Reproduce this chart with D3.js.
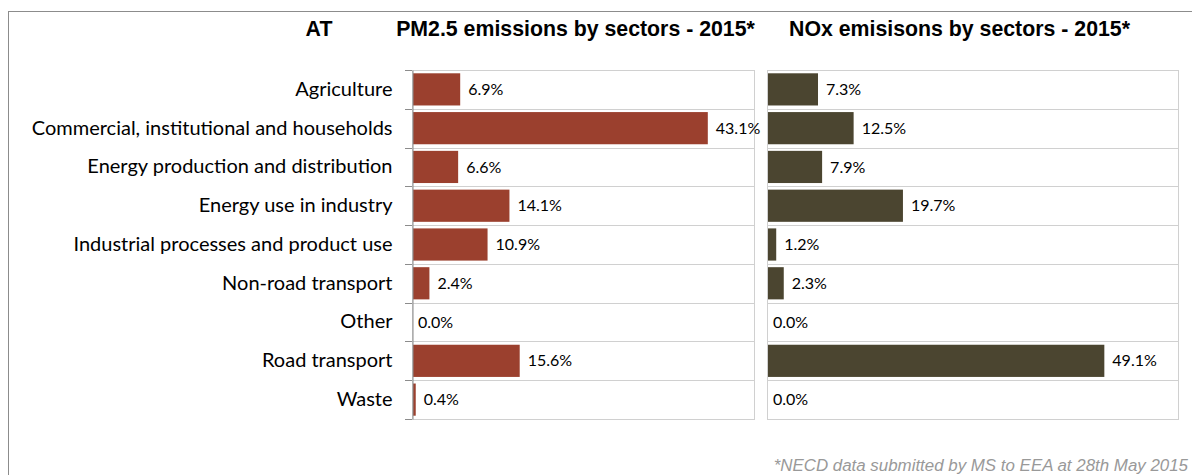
<!DOCTYPE html>
<html><head><meta charset="utf-8">
<script src="https://cdn.jsdelivr.net/npm/d3@7"></script>
<style>body{margin:0;background:#fff;}svg{display:block;}
.tt{font-family:"Liberation Sans", Arial, sans-serif;font-weight:bold;}
.fn{font-family:"Liberation Sans", Arial, sans-serif;font-style:italic;}
</style>
</head><body>
<svg id="c" width="1192" height="475"></svg>
<script>
const categories = ["Agriculture","Commercial, institutional and households","Energy production and distribution","Energy use in industry","Industrial processes and product use","Non-road transport","Other","Road transport","Waste"];
const pm25 = [6.9,43.1,6.6,14.1,10.9,2.4,0.0,15.6,0.4];
const nox = [7.3,12.5,7.9,19.7,1.2,2.3,0.0,49.1,0.0];
const titles = ["AT","PM2.5 emissions by sectors - 2015*","NOx emisisons by sectors - 2015*"];
const footnote = "*NECD data submitted by MS to EEA at 28th May 2015";

const svg = d3.select("#c");
svg.append("rect").attr("x",8.5).attr("y",11.5).attr("width",1200).attr("height",500)
  .attr("fill","none").attr("stroke","#8c8c8c");

const plotTop = 70, plotBottom = 419;
const y = d3.scaleBand().domain(categories).range([plotTop,plotBottom]).paddingInner(0.17).paddingOuter(0.085);
const yb = d3.scaleBand().domain(categories).range([plotTop,plotBottom]);
const lf = "Lato, 'Open Sans', sans-serif";

function panel(x0,x1,max,vals,color,axis){
  const x = d3.scaleLinear().domain([0,max]).range([x0,x1]);
  const g = svg.append("g");
  g.append("rect").attr("x",x0+0.5).attr("y",plotTop+0.5).attr("width",x1-x0).attr("height",plotBottom-plotTop)
    .attr("fill","none").attr("stroke","#d0d0d0");
  g.selectAll("line.grid").data(categories.slice(1)).join("line")
    .attr("x1",x0).attr("x2",x1).attr("y1",d=>Math.round(yb(d))+0.5).attr("y2",d=>Math.round(yb(d))+0.5)
    .attr("stroke","#d0d0d0");
  g.selectAll("rect.bar").data(vals).join("rect")
    .attr("x",x(0)+1).attr("y",(d,i)=>y(categories[i]))
    .attr("width",d=>Math.max(0,x(d)-x(0))).attr("height",y.bandwidth()).attr("fill",color);
  g.selectAll("text.v").data(vals).join("text")
    .attr("x",d=>x(d)+(d>0?9:6)).attr("y",(d,i)=>y(categories[i])+y.bandwidth()/2)
    .attr("dy","0.35em").attr("font-family",lf).attr("font-size",16)
    .attr("fill","#000").text(d=>d.toFixed(1)+"%");
  if(axis){
    const ax = g.append("g").attr("transform",`translate(${x0+0.5},0)`)
      .call(d3.axisLeft(yb).tickSize(0).tickPadding(20));
    ax.select(".domain").attr("stroke","#8c8c8c");
    ax.selectAll("text").attr("font-family",lf).attr("font-size",20).attr("fill","#000");
    g.selectAll("line.tk").data(categories.concat(["_end"])).join("line")
      .attr("x1",x0-7).attr("x2",x0).attr("y1",(d,i)=>Math.round(plotTop+i*yb.step())+0.5)
      .attr("y2",(d,i)=>Math.round(plotTop+i*yb.step())+0.5).attr("stroke","#8c8c8c");
  }
}
panel(412,754,50,pm25,"#9b402e",true);
panel(767,1178,60,nox,"#4b4530",false);

svg.append("text").attr("class","tt").attr("x",319).attr("y",36).attr("text-anchor","middle")
  .attr("font-size",21.3).text(titles[0]);
svg.append("text").attr("class","tt").attr("x",575.5).attr("y",36).attr("text-anchor","middle")
  .attr("font-size",21.3).text(titles[1]);
svg.append("text").attr("class","tt").attr("x",959.5).attr("y",36).attr("text-anchor","middle")
  .attr("font-size",21.3).text(titles[2]);
svg.append("text").attr("class","fn").attr("x",1188).attr("y",471).attr("text-anchor","end")
  .attr("font-size",16.9).attr("fill","#999").text(footnote);
</script>
</body></html>
